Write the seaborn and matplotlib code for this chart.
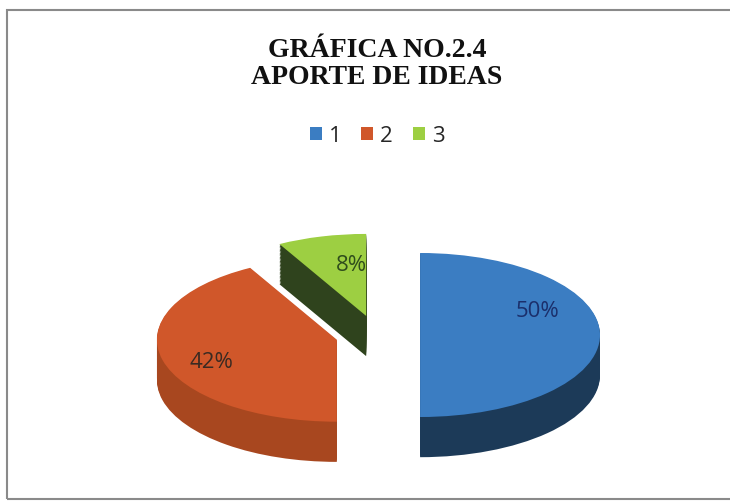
import numpy as np
import matplotlib
matplotlib.use('Agg')
import matplotlib.pyplot as plt
import matplotlib.patches as mpatches
import seaborn as sns

# datos de la grafica
categorias = ['1', '2', '3']
porcentajes = [50, 42, 8]

# colores de la cara superior y del costado
colores = ['#3b7dc2', '#d0572a', '#9dcf42']
colores_lado = ['#1c3a58', '#a8471f', '#2f431d']
colores_texto = ['#1b2f6b', '#3a2a22', '#2f4d1c']
separacion = [0.24, 0.23, 0.24]
# pequeño ajuste de la posicion de los porcentajes
ajuste_etiquetas = [(-0.05, 0.29), (-0.02, -0.11), (0.09, -0.06)]

sns.set_theme(style='white')
plt.rcParams['font.family'] = ['Open Sans', 'DejaVu Sans']

fig = plt.figure(figsize=(7.30, 5.01), dpi=100)
ax = fig.add_axes([0.0973, 0.0367, 0.838, 0.5238])

# grosor del pastel (en unidades del radio vertical)
grosor = 0.49
for desp in np.linspace(grosor, 0.01, 30):
    ax.pie(porcentajes, explode=separacion, colors=colores_lado, startangle=90,
           counterclock=False, center=(0, -desp),
           wedgeprops=dict(linewidth=0, antialiased=True))

cunas, textos, pct = ax.pie(porcentajes, explode=separacion, colors=colores,
                            startangle=90, counterclock=False,
                            autopct='%1.0f%%', pctdistance=0.7,
                            wedgeprops=dict(linewidth=0))
for t, c, (dx, dy) in zip(pct, colores_texto, ajuste_etiquetas):
    x, y = t.get_position()
    t.set_position((x + dx, y + dy))
    t.set_color(c)
    t.set_fontsize(16)

ax.set_aspect('auto')
ax.set_xlim(-1.7, 1.7)
ax.set_ylim(-1.8, 1.4)
ax.axis('off')

fig.text(377 / 730, 1 - 64 / 501, 'GRÁFICA NO.2.4\nAPORTE DE IDEAS',
         ha='center', va='center', fontsize=20, fontweight='bold',
         family='Liberation Serif', linespacing=1.12, color='#111111')

fig.legend(cunas, categorias, loc='center', bbox_to_anchor=(377 / 730, 1 - 136 / 501),
           ncol=3, frameon=False, fontsize=16, handlelength=0.55, handleheight=0.55,
           handletextpad=0.3, columnspacing=0.9)

borde = mpatches.Rectangle((0.0096, 0.004), 1.1, 0.976, transform=fig.transFigure,
                           fill=False, edgecolor='#8a8a8a', linewidth=1.5)
fig.patches.append(borde)

fig.savefig('out.png', dpi=100)
